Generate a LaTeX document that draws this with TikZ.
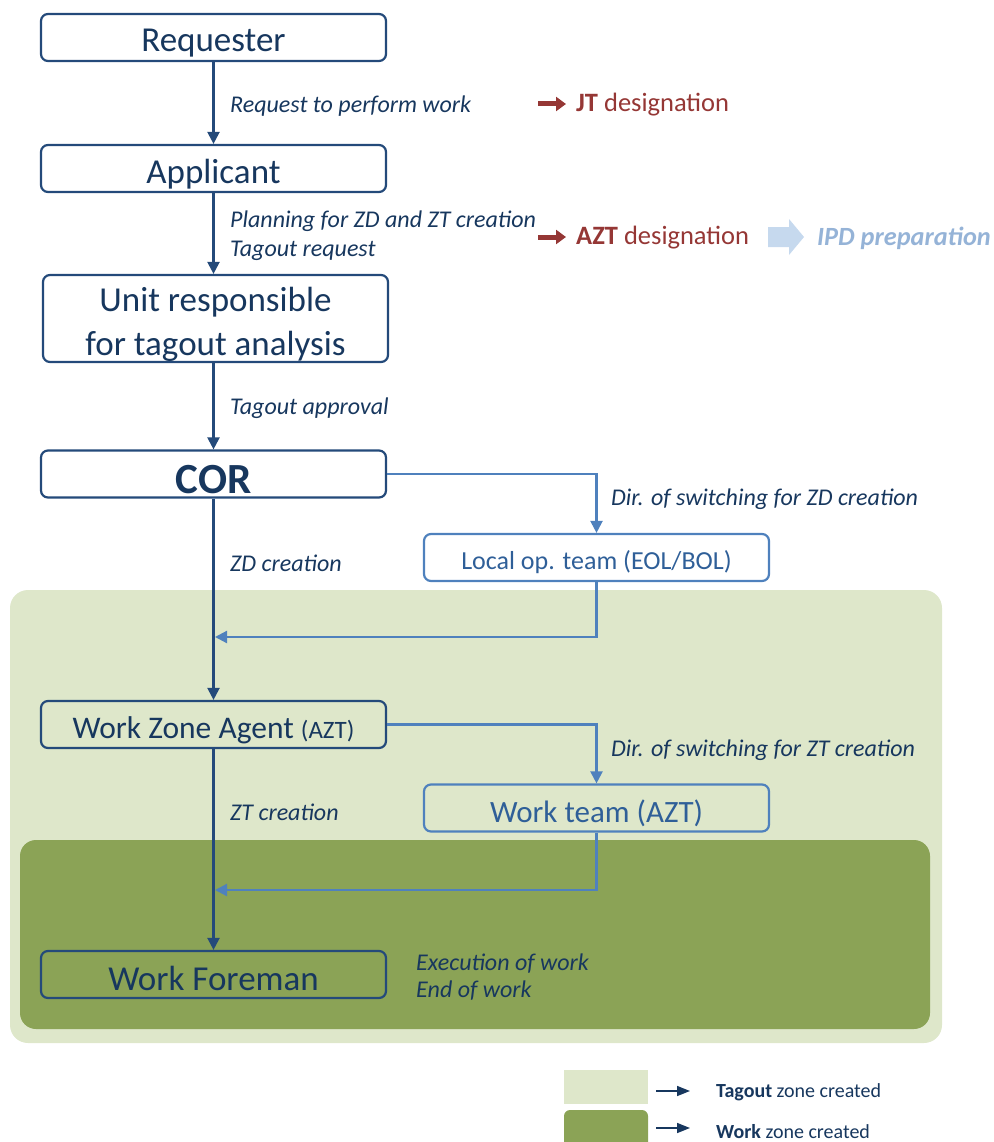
\documentclass[tikz,border=0pt]{standalone}
\usepackage{fontspec}
\setmainfont{Carlito}
\usetikzlibrary{arrows.meta}
\definecolor{navy}{HTML}{17375E}
\definecolor{boxline}{HTML}{244A7A}
\definecolor{subblue}{HTML}{4F81BD}
\definecolor{subtext}{HTML}{2F5F98}
\definecolor{darkred}{HTML}{953735}
\definecolor{ipdblue}{HTML}{95B3D7}
\definecolor{ipdarrow}{HTML}{C6D9EE}
\definecolor{lightgreen}{HTML}{DEE7CA}
\definecolor{darkgreen}{HTML}{8BA356}
\newcommand{\dn}[2][6pt]{\raisebox{-#1}[\height][\depth]{#2}}
\begin{document}
\begin{tikzpicture}[x=1pt,y=-1pt,
  mainbox/.style={draw=boxline, line width=2.2pt, rounded corners=7pt, minimum width=345pt, minimum height=47pt, inner sep=0pt, text=navy, font=\fontsize{35}{43}\selectfont},
  subbox/.style={draw=subblue, line width=2.2pt, rounded corners=7pt, minimum width=345pt, minimum height=47pt, inner sep=0pt, text=subtext},
  mainarrow/.style={draw=boxline, line width=2.2pt, -{Triangle[width=12pt,length=12pt]}},
  subarrow/.style={draw=subblue, line width=2.2pt, -{Triangle[width=12pt,length=12pt]}},
  lbl/.style={anchor=west, text=navy, inner sep=0pt, align=left, font=\fontsize{24}{29}\selectfont\itshape},
  redlbl/.style={anchor=west, text=darkred, inner sep=0pt, font=\fontsize{26.5}{30}\selectfont},
  redarrow/.style={draw=darkred, line width=5pt, -{Triangle[width=14pt,length=10pt]}},
  legarrow/.style={draw=navy, line width=1.6pt, -{Triangle[width=10pt,length=13pt]}},
  legtext/.style={anchor=west, text=navy, inner sep=0pt, font=\fontsize{20}{24}\selectfont}
]
\useasboundingbox (0,0) rectangle (993,1142);

% zone backgrounds
\fill[lightgreen, rounded corners=18pt] (10,590) rectangle (942,1043);
\fill[darkgreen, rounded corners=16pt] (20,840) rectangle (930,1029);

% boxes
\node[mainbox] (req) at (213.5,37.5) {\dn{Requester}};
\node[mainbox] (app) at (213.5,168.5) {\dn{Applicant}};
\node[mainbox, minimum height=87pt] (unit) at (215.5,318.5) {\dn{\begin{tabular}{@{}c@{}}Unit responsible\\[1pt]for tagout analysis\end{tabular}}};
\node[mainbox, font=\fontsize{43}{48}\selectfont\bfseries] (cor) at (213.5,474) {\dn{COR}};
\node[subbox, font=\fontsize{26}{30}\selectfont] (local) at (596.5,557.5) {\dn[5pt]{Local op. team (EOL/BOL)}};
\node[mainbox, font=\fontsize{31.5}{36}\selectfont] (wza) at (213.5,724.5) {\dn{Work Zone Agent {\fontsize{25}{30}\selectfont(AZT)}}};
\node[subbox, font=\fontsize{31}{36}\selectfont] (wt) at (596.5,808) {\dn[5pt]{Work team (AZT)}};
\node[mainbox] (wf) at (213.5,974.5) {\dn[4pt]{Work Foreman}};

% connectors
\coordinate (j1) at (215,637);
\coordinate (j2) at (215,890);
\draw[mainarrow] (req) -- (app);
\draw[mainarrow] (app.south) -- (app.south |- unit.north);
\draw[mainarrow] (cor.north |- unit.south) -- (cor.north);
\draw[subarrow] (cor.east) -| (local.north);
\draw[subarrow] (local.south) |- (j1);
\draw[mainarrow] (cor) -- (wza);
\draw[subarrow] (wza.east) -| (wt.north);
\draw[subarrow] (wt.south) |- (j2);
\draw[mainarrow] (wza) -- (wf);

% labels
\node[lbl] (l1) at (230,106) {Request to perform work};
\node[lbl] (l2) at (230,235.5) {Planning for ZD and ZT creation\\Tagout request};
\node[lbl] (l3) at (230,408) {Tagout approval};
\node[lbl] (l4) at (611,499) {Dir. of switching for ZD creation};
\node[lbl] (l5) at (230,563) {ZD creation};
\node[lbl] (l6) at (611,750) {Dir. of switching for ZT creation};
\node[lbl] (l7) at (230,812) {ZT creation};
\node[lbl, font=\fontsize{24}{27}\selectfont\itshape] (l8) at (416,977.5) {Execution of work\\End of work};

% red designations
\coordinate (ra1) at (538,104);
\coordinate (rb1) at (566,104);
\coordinate (ra2) at (538,237);
\coordinate (rb2) at (566,237);
\draw[redarrow] (ra1) -- (rb1);
\draw[redarrow] (ra2) -- (rb2);
\node[redlbl] (jt) at (576,105) {\textbf{JT} designation};
\node[redlbl] (azt) at (576,238) {\textbf{AZT} designation};

% IPD arrow
\fill[ipdarrow] (768,227) -- (789,227) -- (789,219) -- (804,237) -- (789,255) -- (789,247) -- (768,247) -- cycle;
\node[anchor=west, inner sep=0pt, text=ipdblue, font=\fontsize{26.3}{30}\selectfont\bfseries\itshape] (ipd) at (817,238) {IPD preparation};

% legend
\fill[lightgreen] (564,1070) rectangle (648,1104);
\fill[darkgreen, rounded corners=6pt] (564,1110) rectangle (648,1160);
\coordinate (ga1) at (656,1091);
\coordinate (gb1) at (690,1091);
\coordinate (ga2) at (656,1128);
\coordinate (gb2) at (690,1128);
\draw[legarrow] (ga1) -- (gb1);
\draw[legarrow] (ga2) -- (gb2);
\node[legtext] (t1) at (716,1092) {\textbf{Tagout} zone created};
\node[legtext] (t2) at (716,1132) {\textbf{Work} zone created};
\end{tikzpicture}
\end{document}
